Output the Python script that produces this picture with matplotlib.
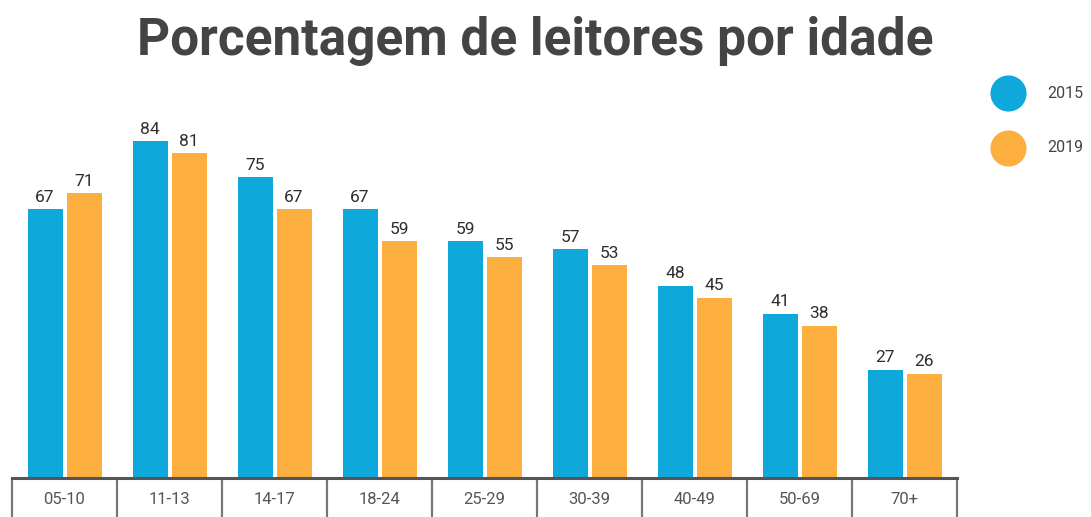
import matplotlib
matplotlib.use("Agg")
import matplotlib.pyplot as plt
from matplotlib.lines import Line2D
import numpy as np

categories = ["05-10", "11-13", "14-17", "18-24", "25-29", "30-39", "40-49", "50-69", "70+"]
v2015 = [67, 84, 75, 67, 59, 57, 48, 41, 27]
v2019 = [71, 81, 67, 59, 55, 53, 45, 38, 26]
series_names = ["2015", "2019"]

c_blue = "#0ea8db"
c_orange = "#fcae3e"

plt.rcParams["font.family"] = ["Roboto", "DejaVu Sans"]

W, H = 1091, 517
fig = plt.figure(figsize=(W / 100, H / 100), dpi=100)
ax = fig.add_axes([12 / W, (H - 478) / H, (957 - 12) / W, 398 / H])

x = np.arange(len(categories))
bw = 35 / 105
gap = 4 / 105
b1 = ax.bar(x - (bw + gap) / 2, v2015, width=bw, color=c_blue, edgecolor="none")
b2 = ax.bar(x + (bw + gap) / 2, v2019, width=bw, color=c_orange, edgecolor="none")
for bars in (b1, b2):
    for r in bars:
        ax.text(r.get_x() + r.get_width() / 2, r.get_height() + 1.1, f"{int(r.get_height())}",
                ha="center", va="bottom", fontsize=12.5, color="#2e2e2e")

ax.set_xlim(-0.5, len(categories) - 0.5)
ax.set_ylim(0, 398 / 4.01)
for s in ("top", "right", "left"):
    ax.spines[s].set_visible(False)
ax.spines["bottom"].set_linewidth(2.2)
ax.spines["bottom"].set_color("#555555")
ax.set_yticks([])
ax.set_xticks(x)
ax.set_xticklabels(categories, fontsize=12, color="#555555")
ax.tick_params(axis="x", which="major", length=0, pad=10)
ax.set_xticks(np.arange(len(categories) + 1) - 0.5, minor=True)
ax.tick_params(axis="x", which="minor", length=30, width=1.6, color="#777777")

fig.text(535 / W, 1 - 55 / H, "Porcentagem de leitores por idade", ha="center", va="baseline",
         fontsize=37, fontweight="bold", color="#444444")

for i, (name, col) in enumerate(zip(series_names, [c_blue, c_orange])):
    yy = 1 - (93 + 55 * i) / H
    fig.add_artist(Line2D([1008 / W], [yy], marker="o", markersize=25, color=col,
                          linestyle="none", transform=fig.transFigure))
    fig.text(1047 / W, yy, name, ha="left", va="center", fontsize=11.5, color="#444444")

fig.savefig("out.png", dpi=100)
